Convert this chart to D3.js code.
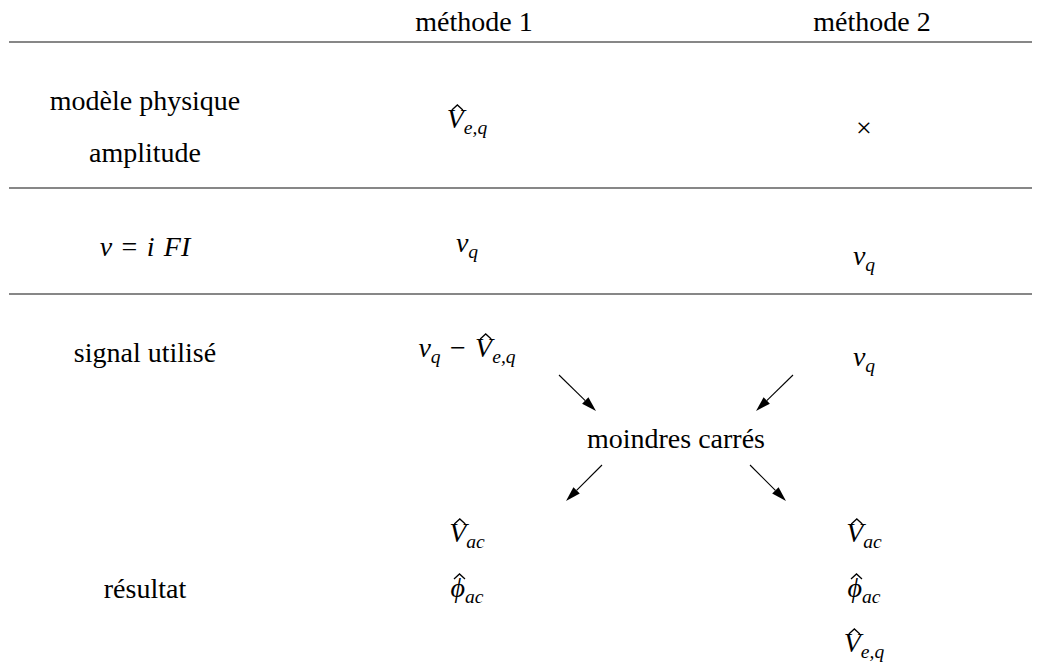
<!DOCTYPE html>
<html>
<head>
<meta charset="utf-8">
<script src="https://cdn.jsdelivr.net/npm/d3@7"></script>
<style>
body { margin: 0; background: #fff; }
svg { display: block; }
</style>
</head>
<body>
<div id="chart"></div>
<script>
// Contenu du tableau (texte ou formule entre $...$)
var headers = ["méthode 1", "méthode 2"];
var rowLabels = [["modèle physique", "amplitude"], ["$v = i~FI$"], ["signal utilisé"], ["résultat"]];
var method1 = [["$\\hat{V}_{e,q}$"], ["$v_q$"], ["$v_q - \\hat{V}_{e,q}$"], ["$\\hat{V}_{ac}$", "$\\hat{\\phi}_{ac}$"]];
var method2 = [["$\\times$"], ["$v_q$"], ["$v_q$"], ["$\\hat{V}_{ac}$", "$\\hat{\\phi}_{ac}$", "$\\hat{V}_{e,q}$"]];
var solver = "moindres carrés";
// fleches : les signaux entrent dans les moindres carrés, les résultats en sortent
var arrows = [
  {col: "m1", dir: "in"}, {col: "m2", dir: "in"},
  {col: "m1", dir: "out"}, {col: "m2", dir: "out"}
];

var larg = 1041, haut = 662;
var fs = 28;          // taille police
var font = "'Liberation Serif'";
var sp = "\u2004";    // espace math (~1/3 em)

var x = d3.scaleOrdinal().domain(["label", "m1", "ls", "m2"]).range([145, 467, 676, 864]);
var headY = 31, solverY = 448;
var ruleY = d3.scaleOrdinal().domain([0, 1, 2]).range([42, 188, 294]);
// ligne de base de la premiere ligne de chaque case
var yLabel = d3.scaleOrdinal().domain([0, 1, 2, 3]).range([110, 256, 362, 598]);
var yM1 = d3.scaleOrdinal().domain([0, 1, 2, 3]).range([128, 252, 357, 542]);
var yM2 = d3.scaleOrdinal().domain([0, 1, 2, 3]).range([137, 265, 366, 542]);
var lhLabel = 52, lh = 55;

var svg = d3.select("#chart")
            .append("svg")
            .attr("width", larg)
            .attr("height", haut);

// Lignes horizontales
svg.selectAll("line.rule")
    .data(ruleY.domain())
    .enter()
    .append("line")
    .classed("rule", true)
    .attr("x1", 9)
    .attr("x2", 1032)
    .attr("y1", function(d){ return ruleY(d); })
    .attr("y2", function(d){ return ruleY(d); })
    .attr("stroke", "#111")
    .attr("stroke-width", 1.2);

// mini parseur LaTeX
function mathTokens(src) {
    var out = [], i = 0;
    function group() {
        if (src[i] === "{") {
            var j = src.indexOf("}", i);
            var g = src.slice(i + 1, j);
            i = j + 1;
            return g;
        }
        return src[i++];
    }
    function letters(g) { return g.replace(/\\phi/g, "\u03D5"); }
    while (i < src.length) {
        var c = src[i];
        if (src.startsWith("\\hat", i)) { i += 4; out.push({t: letters(group()), it: true, hat: true}); }
        else if (src.startsWith("\\times", i)) { i += 6; out.push({t: "\u00D7"}); }
        else if (c === "_") { i++; out.push({t: letters(group()), it: true, sub: true}); }
        else if (c === "-") { i++; out.push({t: sp + "\u2212" + sp}); }
        else if (c === "=") { i++; out.push({t: sp + "=" + sp}); }
        else if (c === "~") { i++; out.push({t: sp}); }
        else if (c === " ") { i++; }
        else { i++; out.push({t: c, it: /[a-zA-Z]/.test(c)}); }
    }
    return out;
}

function drawCell(src, cx, y) {
    var text = svg.append("text")
        .attr("x", cx)
        .attr("y", y)
        .attr("text-anchor", "middle")
        .style("font-family", font)
        .style("font-size", fs + "px")
        .attr("fill", "#000");
    if (src[0] !== "$") { text.text(src); return; }
    var toks = mathTokens(src.slice(1, -1));
    var shift = 0, drop = Math.round(fs * 0.2);
    toks.forEach(function(tk){
        var want = tk.sub ? drop : 0;
        var ts = text.append("tspan").text(tk.t).attr("dy", want - shift);
        shift = want;
        if (tk.it) ts.style("font-style", "italic");
        if (tk.sub) ts.style("font-size", (fs * 0.7) + "px");
    });
    // chapeaux
    var idx = 0;
    toks.forEach(function(tk){
        if (tk.hat) {
            var r = text.node().getExtentOfChar(idx);
            var hx = r.x + r.width * 0.62;
            var top = y - fs * 0.68 - 4;
            svg.append("path")
                .attr("d", "M" + (hx - 5.5) + "," + (top + 5) + "L" + hx + "," + top + "L" + (hx + 5.5) + "," + (top + 5))
                .attr("fill", "none")
                .attr("stroke", "#000")
                .attr("stroke-width", 1.3);
        }
        idx += tk.t.length;
    });
}

// En-tetes
headers.forEach(function(h, i){
    drawCell(h, x(i === 0 ? "m1" : "m2") + (i === 0 ? 7 : 8), headY);
});

rowLabels.forEach(function(lines, r){
    lines.forEach(function(s, k){ drawCell(s, x("label"), yLabel(r) + k * lhLabel); });
});
method1.forEach(function(lines, r){
    lines.forEach(function(s, k){ drawCell(s, x("m1"), yM1(r) + k * lh); });
});
method2.forEach(function(lines, r){
    lines.forEach(function(s, k){ drawCell(s, x("m2"), yM2(r) + k * lh); });
});
drawCell(solver, x("ls"), solverY);

// Fleches
svg.selectAll("g.arrow")
    .data(arrows)
    .enter()
    .append("g")
    .classed("arrow", true)
    .each(function(d){
        var s = d.col === "m1" ? -1 : 1;
        var cx = x("ls");
        var p0, p1;
        if (d.dir === "in") {
            p0 = [cx + s * 117, solverY - 73];
            p1 = [cx + s * 80, solverY - 37];
        } else {
            p0 = [cx + s * 74, solverY + 17];
            p1 = [cx + s * 110, solverY + 53];
        }
        var dx = p1[0] - p0[0], dy = p1[1] - p0[1];
        var len = Math.sqrt(dx * dx + dy * dy);
        var ux = dx / len, uy = dy / len;
        var hl = 15, hw = 4.5;
        var bx = p1[0] - ux * hl, by = p1[1] - uy * hl;
        var g = d3.select(this);
        g.append("line")
            .attr("x1", p0[0]).attr("y1", p0[1])
            .attr("x2", bx).attr("y2", by)
            .attr("stroke", "#000")
            .attr("stroke-width", 1.1);
        g.append("path")
            .attr("d", "M" + p1[0] + "," + p1[1] +
                       "L" + (bx - uy * hw) + "," + (by + ux * hw) +
                       "L" + (bx + uy * hw) + "," + (by - ux * hw) + "Z")
            .attr("fill", "#000");
    });
</script>
</body>
</html>
